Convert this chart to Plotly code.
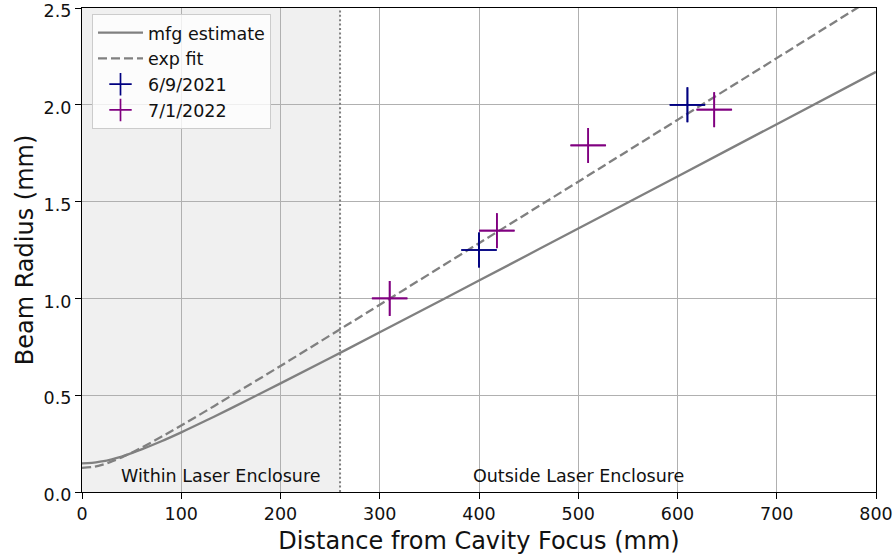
import plotly.graph_objects as go

# ---- data ----
curve_z = [0, 10, 20, 30, 40, 50, 60, 80, 100, 125, 150, 200, 250, 300, 400, 500, 600, 700, 800]
mfg_estimate = [0.148, 0.150, 0.158, 0.169, 0.183, 0.201, 0.220, 0.262, 0.308, 0.369, 0.432,
                0.561, 0.692, 0.825, 1.092, 1.361, 1.630, 1.900, 2.170]
exp_fit = [0.125, 0.129, 0.140, 0.158, 0.179, 0.203, 0.229, 0.285, 0.343, 0.419, 0.496,
           0.651, 0.809, 0.967, 1.285, 1.603, 1.922, 2.241, 2.561]

d2021_x = [400, 610]
d2021_y = [1.25, 2.00]
d2022_x = [310, 418, 510, 637]
d2022_y = [1.00, 1.35, 1.79, 1.975]
x_err = 18
y_err = 0.09

enclosure_edge = 260
region_labels = ["Within Laser Enclosure", "Outside Laser Enclosure"]
region_label_x = [140, 500]
region_label_y = 0.085

x_ticks = [0, 100, 200, 300, 400, 500, 600, 700, 800]
y_ticks = [0.0, 0.5, 1.0, 1.5, 2.0, 2.5]

FONT = "DejaVu Sans"
GRAY = "#808080"

fig = go.Figure()

fig.add_trace(go.Scatter(x=curve_z, y=mfg_estimate, mode="lines", name="mfg estimate",
                         line=dict(color=GRAY, width=2.3, shape="spline")))
fig.add_trace(go.Scatter(x=curve_z, y=exp_fit, mode="lines", name="exp fit",
                         line=dict(color=GRAY, width=2.3, dash="9px,4px", shape="spline")))

for xs, ys, col, nm in [(d2021_x, d2021_y, "#000080", "6/9/2021"),
                        (d2022_x, d2022_y, "#800080", "7/1/2022")]:
    fig.add_trace(go.Scatter(
        x=xs, y=ys, mode="markers", name=nm,
        marker=dict(symbol="cross-thin", size=25, color=col, line=dict(color=col, width=1.7)),
        error_x=dict(type="constant", value=x_err, color=col, thickness=1.7, width=0),
        error_y=dict(type="constant", value=y_err, color=col, thickness=1.7, width=0),
    ))

fig.add_shape(type="rect", xref="x", yref="y domain", x0=0, x1=enclosure_edge, y0=0, y1=1,
              fillcolor="#f0f0f0", line=dict(width=0), layer="below")
fig.add_shape(type="line", xref="x", yref="y domain", x0=enclosure_edge, x1=enclosure_edge,
              y0=0, y1=1, line=dict(color=GRAY, width=2, dash="2px,2.4px"), layer="above")

for txt, xv in zip(region_labels, region_label_x):
    fig.add_annotation(x=xv, y=region_label_y, text=txt, showarrow=False,
                       xanchor="center", yanchor="middle",
                       font=dict(family=FONT, size=17.5, color="#111111"))

axis_common = dict(showline=True, mirror=True, linecolor="black", linewidth=1.3,
                   ticks="outside", ticklen=6, tickwidth=1.3, tickcolor="black",
                   showgrid=True, gridcolor="#b0b0b0", gridwidth=1, zeroline=False,
                   automargin=False, ticklabeloverflow="allow",
                   tickfont=dict(family=FONT, size=17.5, color="#111111"))

fig.update_xaxes(range=[0, 800], tickvals=x_ticks, ticktext=[str(v) for v in x_ticks],
                 title=dict(text="Distance from Cavity Focus (mm)",
                            font=dict(family=FONT, size=24, color="#111111"), standoff=9),
                 **axis_common)
fig.update_yaxes(range=[0, 2.5], tickvals=y_ticks, ticktext=[f"{v:.1f}" for v in y_ticks],
                 ticklabelshift=3,
                 title=dict(text="Beam Radius (mm)",
                            font=dict(family=FONT, size=24, color="#111111"), standoff=3),
                 **axis_common)

fig.update_layout(
    width=895, height=559,
    margin=dict(l=82, r=19, t=8, b=67),
    plot_bgcolor="white", paper_bgcolor="white",
    font=dict(family=FONT, color="#111111"),
    legend=dict(x=0.0126, y=0.988, xanchor="left", yanchor="top",
                bgcolor="rgba(255,255,255,0.8)", bordercolor="#cccccc", borderwidth=1,
                font=dict(family=FONT, size=17.5, color="#111111"),
                tracegroupgap=0, itemwidth=45),
    showlegend=True,
)

fig.write_html("out.html", config={"displayModeBar": False},
               post_script="document.body.style.margin='0';")
